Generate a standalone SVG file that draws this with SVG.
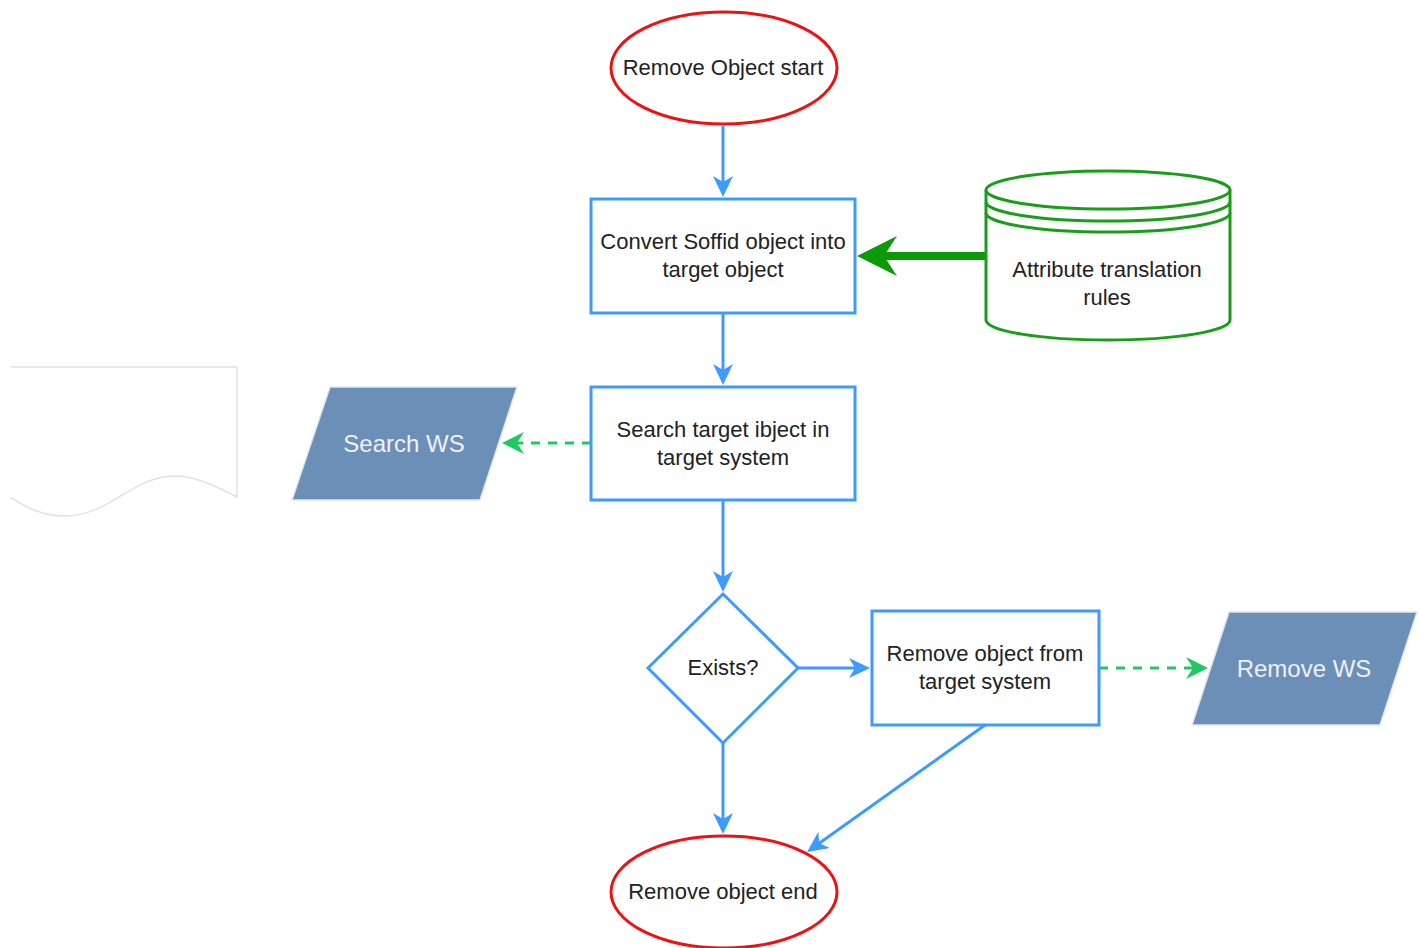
<svg xmlns="http://www.w3.org/2000/svg" width="1422" height="948" viewBox="0 0 1422 948">
<defs>
<style>
.t{font-family:"Liberation Sans",Arial,sans-serif;font-size:22px;fill:#222;text-anchor:middle}
.tw{font-family:"Liberation Sans",Arial,sans-serif;font-size:24px;fill:#eef2f8;text-anchor:middle}
.blue{fill:#fff;stroke:#3d9bff;stroke-width:3}
.red{fill:#fff;stroke:#ee1111;stroke-width:3}
.ws{fill:#6b8fb7;stroke:#dfe6ee;stroke-width:1.5}
.c{fill:none;stroke:#3d9bff;stroke-width:3}
.d{fill:none;stroke:#1ec862;stroke-width:3;stroke-dasharray:9 8}
</style>
<marker id="ab" markerWidth="23" markerHeight="22" viewBox="-22 -11 23 22" refX="-12" refY="0" orient="auto" markerUnits="userSpaceOnUse" overflow="visible">
<path d="M0,0 L-21,-10 L-15,0 L-21,10 Z" fill="#3d9bff"/>
</marker>
<marker id="ag" markerWidth="23" markerHeight="22" viewBox="-22 -11 23 22" refX="-12" refY="0" orient="auto" markerUnits="userSpaceOnUse" overflow="visible">
<path d="M0,0 L-22,-11 L-15,0 L-22,11 Z" fill="#1ec862"/>
</marker>
</defs>

<g id="doc">
<path d="M10,367 H237 V497 C210,483 192,476 175,476 C132,476 110,516 65,516 C40,516 25,506 10,497" fill="#fff" stroke="#e2e2e2" stroke-width="1.5"/>
<path d="M10,367 V497" stroke="#fff" stroke-width="3"/>
</g>

<g id="connectors">
<line x1="723" y1="126" x2="723" y2="185" class="c" marker-end="url(#ab)"/>
<line x1="723" y1="313" x2="723" y2="373" class="c" marker-end="url(#ab)"/>
<line x1="723" y1="500" x2="723" y2="580" class="c" marker-end="url(#ab)"/>
<line x1="798" y1="668" x2="858" y2="668" class="c" marker-end="url(#ab)"/>
<line x1="723" y1="743" x2="723" y2="822" class="c" marker-end="url(#ab)"/>
<line x1="985" y1="725" x2="816.8" y2="845" class="c" marker-end="url(#ab)"/>
<line x1="591" y1="443" x2="514" y2="443" class="d" marker-end="url(#ag)"/>
<line x1="1099" y1="668" x2="1196" y2="668" class="d" marker-end="url(#ag)"/>
<line x1="985" y1="256" x2="878" y2="256" stroke="#0a9a0a" stroke-width="8"/>
<path d="M857,256 L897,236 L884,256 L897,276 Z" fill="#0a9a0a"/>
</g>

<g id="start">
<ellipse cx="724" cy="68" rx="113" ry="56" class="red"/>
<text x="723" y="75" class="t">Remove Object start</text>
</g>

<g id="convert">
<rect x="591" y="199" width="264" height="114" class="blue"/>
<text x="723" y="249" class="t">Convert Soffid object into</text>
<text x="723" y="277" class="t">target object</text>
</g>

<g id="rules">
<path d="M986,190 V320 A122,20 0 0 0 1230,320 V190" fill="#fff" stroke="#1a9e1a" stroke-width="3"/>
<ellipse cx="1108" cy="190" rx="122" ry="19" fill="#fff" stroke="#1a9e1a" stroke-width="3"/>
<path d="M986,202 A122,19 0 0 0 1230,202 M986,213 A122,19 0 0 0 1230,213" fill="none" stroke="#1a9e1a" stroke-width="3"/>
<text x="1107" y="277" class="t">Attribute translation</text>
<text x="1107" y="305" class="t">rules</text>
</g>

<g id="search">
<rect x="591" y="387" width="264" height="113" class="blue"/>
<text x="723" y="437" class="t">Search target ibject in</text>
<text x="723" y="465" class="t">target system</text>
</g>

<g id="searchws">
<polygon points="330,387 517,387 480,500 292,500" class="ws"/>
<text x="404" y="452" class="tw">Search WS</text>
</g>

<g id="exists">
<polygon points="723,594 798,668 723,743 648,668" class="blue"/>
<text x="723" y="675" class="t">Exists?</text>
</g>

<g id="remove">
<rect x="872" y="611" width="227" height="114" class="blue"/>
<text x="985" y="661" class="t">Remove object from</text>
<text x="985" y="689" class="t">target system</text>
</g>

<g id="removews">
<polygon points="1229,612 1417,612 1380,725 1192,725" class="ws"/>
<text x="1304" y="677" class="tw">Remove WS</text>
</g>

<g id="end">
<ellipse cx="724" cy="892" rx="113" ry="56" class="red"/>
<text x="723" y="899" class="t">Remove object end</text>
</g>
</svg>
